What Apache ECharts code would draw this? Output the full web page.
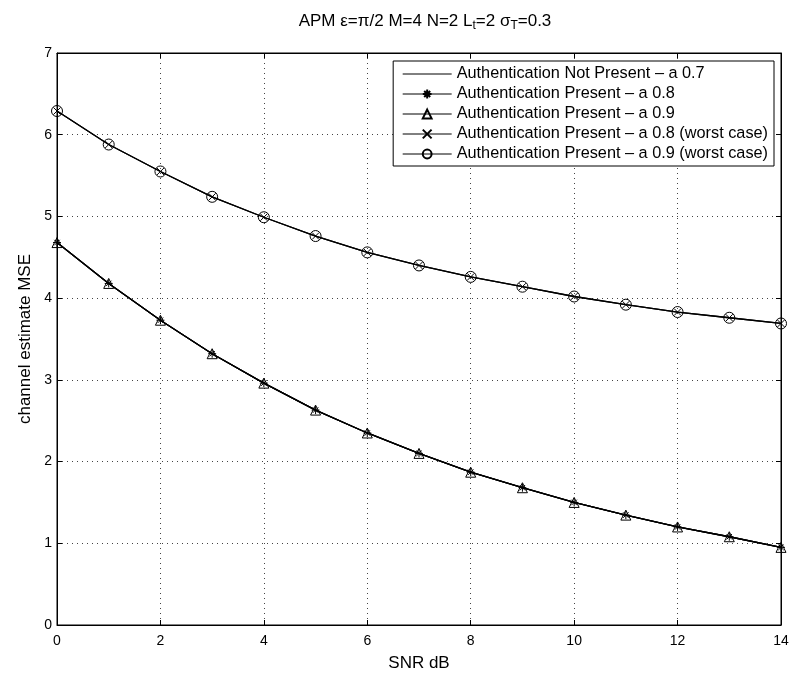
<!DOCTYPE html>
<html><head><meta charset="utf-8">
<script src="https://cdn.jsdelivr.net/npm/echarts@6/dist/echarts.min.js"></script>
<style>html,body{margin:0;padding:0;background:#fff}#c{width:793px;height:677px}</style>
</head><body><div id="c"></div>
<script>
const snr = [0,1,2,3,4,5,6,7,8,9,10,11,12,13,14];
const notPresent07 = [4.68,4.18,3.73,3.32,2.96,2.63,2.35,2.10,1.87,1.68,1.50,1.345,1.20,1.08,0.95];
const present08 = [4.68,4.18,3.73,3.32,2.96,2.63,2.35,2.10,1.87,1.68,1.50,1.345,1.20,1.08,0.95];
const present09 = [4.68,4.18,3.73,3.32,2.96,2.63,2.35,2.10,1.87,1.68,1.50,1.345,1.20,1.08,0.95];
const present08worst = [6.29,5.88,5.55,5.24,4.99,4.76,4.56,4.40,4.26,4.14,4.02,3.92,3.83,3.76,3.69];
const present09worst = [6.29,5.88,5.55,5.24,4.99,4.76,4.56,4.40,4.26,4.14,4.02,3.92,3.83,3.76,3.69];
const seriesNames = [
  'Authentication Not Present \u2013 a 0.7',
  'Authentication Present \u2013 a 0.8',
  'Authentication Present \u2013 a 0.9',
  'Authentication Present \u2013 a 0.8 (worst case)',
  'Authentication Present \u2013 a 0.9 (worst case)'
];

const FONT = 'Liberation Sans, Arial, sans-serif';
const pair = ys => snr.map((x,i)=>[x,ys[i]]);
const starPath = 'path://M5,0L5,10M0,5L10,5M1.6,1.6L8.4,8.4M8.4,1.6L1.6,8.4';
const xPath = 'path://M0,0L10,10M10,0L0,10';
const triPath = 'path://M5,0L10,9L0,9Z';
const mk = (name, data, symbol, size, show, bw) => ({
  name, type:'line', data: pair(data), symbol, symbolSize: size, showSymbol: show,
  lineStyle:{color:'#000', width:1.3},
  itemStyle:{color:'rgba(0,0,0,0)', borderColor: bw ? '#000' : 'rgba(0,0,0,0)', borderWidth:bw},
  emphasis:{disabled:true}, animation:false, z:3
});
const gridLine = {show:true, lineStyle:{color:'#444', width:1, type:[1,4]}};
const chart = echarts.init(document.getElementById('c'));
chart.setOption({
  backgroundColor:'#fff',
  animation:false,
  title:{
    text:'APM \u03b5=\u03c0/2 M=4 N=2 L{s|t}=2 \u03c3{s|T}=0.3',
    left: 420, top: 5, textAlign:'center',
    textStyle:{fontFamily:FONT, fontSize:17, fontWeight:'normal', color:'#000',
      rich:{s:{fontFamily:FONT, fontSize:12, color:'#000', padding:[10,0,0,0]}}}
  },
  grid:{left:57, right:12, top:53, bottom:50, containLabel:false, show:true, borderColor:'#000', borderWidth:1},
  legend:{
    right: 19, top: 61, orient:'vertical', itemWidth:49, itemHeight:11, itemGap:4,
    backgroundColor:'#fff', borderColor:'#000', borderWidth:1, padding:[5,6,4,9],
    lineStyle:{width:1},
    textStyle:{fontFamily:FONT, fontSize:16.3, color:'#000'},
    data: seriesNames
  },
  xAxis:[{
    type:'value', min:0, max:14, interval:2,
    name:'SNR dB', nameLocation:'middle', nameGap:30,
    nameTextStyle:{fontFamily:FONT, fontSize:17, color:'#000'},
    axisLine:{show:true, onZero:false, lineStyle:{color:'#000'}},
    axisTick:{show:true, inside:true, length:5, lineStyle:{color:'#000'}},
    axisLabel:{fontFamily:FONT, fontSize:14, color:'#000', margin:9},
    splitLine: gridLine
  },{
    type:'value', min:0, max:14, interval:2, position:'top',
    axisLine:{show:true, onZero:false, lineStyle:{color:'#000'}},
    axisTick:{show:true, inside:true, length:5, lineStyle:{color:'#000'}},
    axisLabel:{show:false}, splitLine:{show:false}
  }],
  yAxis:[{
    type:'value', min:0, max:7, interval:1,
    name:'channel estimate MSE', nameLocation:'middle', nameGap:20,
    nameTextStyle:{fontFamily:FONT, fontSize:17, color:'#000'},
    axisLine:{show:true, onZero:false, lineStyle:{color:'#000'}},
    axisTick:{show:true, inside:true, length:5, lineStyle:{color:'#000'}},
    axisLabel:{fontFamily:FONT, fontSize:14, color:'#000', margin:5},
    splitLine: gridLine
  },{
    type:'value', min:0, max:7, interval:1, position:'right',
    axisLine:{show:true, onZero:false, lineStyle:{color:'#000'}},
    axisTick:{show:true, inside:true, length:5, lineStyle:{color:'#000'}},
    axisLabel:{show:false}, splitLine:{show:false}
  }],
  series:[
    mk(seriesNames[0], notPresent07, 'circle', 1, false, 0),
    mk(seriesNames[1], present08, starPath, 8, true, 1),
    mk(seriesNames[2], present09, triPath, 10, true, 1),
    mk(seriesNames[3], present08worst, xPath, 7, true, 1),
    mk(seriesNames[4], present09worst, 'circle', 11, true, 1)
  ]
});
</script></body></html>
